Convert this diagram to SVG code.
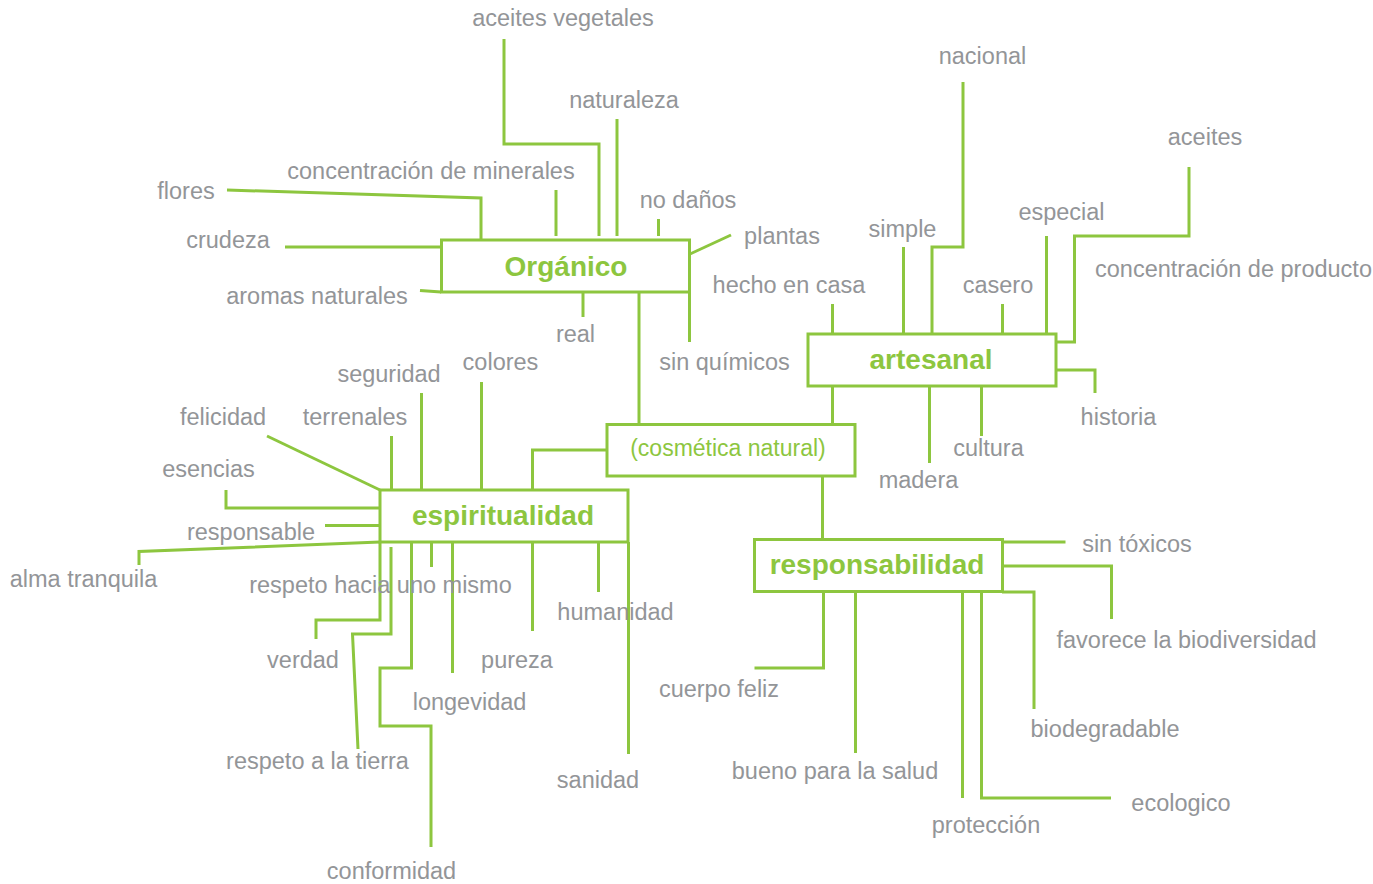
<svg xmlns="http://www.w3.org/2000/svg" width="1373" height="884" viewBox="0 0 1373 884">
<style>
.c{fill:none;stroke:#8dc63f;stroke-width:3}
.b{fill:#fff;stroke:#8dc63f;stroke-width:3}
.t{font-family:"Liberation Sans",Arial,Helvetica,sans-serif;font-size:23.5px;fill:#939598;text-anchor:middle}
.h{font-family:"Liberation Sans",Arial,Helvetica,sans-serif;font-size:28px;font-weight:bold;fill:#8dc63f;text-anchor:middle}
.g{font-family:"Liberation Sans",Arial,Helvetica,sans-serif;font-size:23px;fill:#8dc63f;text-anchor:middle}
</style>
<rect width="1373" height="884" fill="#fff"/>
<g id="connectors">
<polyline class="c" points="504,39 504,144 599,144 599,236"/>
<line class="c" x1="617" y1="119" x2="617" y2="236"/>
<line class="c" x1="556" y1="190" x2="556" y2="236"/>
<line class="c" x1="658.5" y1="219" x2="658.5" y2="236"/>
<polyline class="c" points="227,190 481,198 481,240"/>
<line class="c" x1="285" y1="247" x2="441" y2="247"/>
<line class="c" x1="420" y1="290.5" x2="441" y2="292"/>
<line class="c" x1="690" y1="254" x2="731" y2="235"/>
<line class="c" x1="583" y1="292" x2="583" y2="317"/>
<line class="c" x1="689.5" y1="292" x2="689.5" y2="342"/>
<line class="c" x1="639" y1="292" x2="639" y2="424"/>
<polyline class="c" points="963,82 963,247 932,247 932,334"/>
<line class="c" x1="903.5" y1="247" x2="903.5" y2="334"/>
<line class="c" x1="832.5" y1="304" x2="832.5" y2="334"/>
<line class="c" x1="1002.5" y1="304" x2="1002.5" y2="334"/>
<line class="c" x1="1046.5" y1="236" x2="1046.5" y2="334"/>
<polyline class="c" points="1056,342 1074.5,342 1074.5,236 1189,236 1189,167"/>
<polyline class="c" points="1056,370 1095,370 1095,393"/>
<line class="c" x1="981.5" y1="386" x2="981.5" y2="436"/>
<line class="c" x1="929.5" y1="386" x2="929.5" y2="463"/>
<line class="c" x1="832.5" y1="386" x2="832.5" y2="424"/>
<polyline class="c" points="607,450 532.5,450 532.5,490"/>
<line class="c" x1="822.5" y1="476" x2="822.5" y2="539"/>
<line class="c" x1="267" y1="436" x2="380" y2="490"/>
<line class="c" x1="391.5" y1="436" x2="391.5" y2="490"/>
<line class="c" x1="421.5" y1="393" x2="421.5" y2="490"/>
<line class="c" x1="481.5" y1="382" x2="481.5" y2="490"/>
<polyline class="c" points="226,490 226,508 380,508"/>
<line class="c" x1="325" y1="525.5" x2="380" y2="525.5"/>
<polyline class="c" points="139,565 139,551.5 380,542"/>
<polyline class="c" points="380,542 380,620 316,620 316,639"/>
<polyline class="c" points="391,547 391,634 352.5,634 358,749"/>
<polyline class="c" points="411.5,542 411.5,668 380,668 380,726 431,726 431,847"/>
<line class="c" x1="431.5" y1="542" x2="431.5" y2="567"/>
<line class="c" x1="452.5" y1="542" x2="452.5" y2="673"/>
<line class="c" x1="532.5" y1="542" x2="532.5" y2="631"/>
<line class="c" x1="598.5" y1="542" x2="598.5" y2="592"/>
<line class="c" x1="628.5" y1="542" x2="628.5" y2="754"/>
<line class="c" x1="1002" y1="542" x2="1065.5" y2="542"/>
<polyline class="c" points="1002,566 1111.5,566 1111.5,619"/>
<polyline class="c" points="1002,592 1034,592 1034,709"/>
<polyline class="c" points="823.5,592 823.5,668 754.5,668"/>
<line class="c" x1="855.5" y1="592" x2="855.5" y2="753"/>
<line class="c" x1="962.5" y1="592" x2="962.5" y2="798"/>
<polyline class="c" points="981.5,592 981.5,798 1111,798"/>
</g>
<g id="organico">
<rect class="b" x="441.5" y="240" width="248" height="52"/>
<text class="h" x="566" y="276">Orgánico</text>
</g>
<g id="artesanal">
<rect class="b" x="808" y="334" width="248" height="52"/>
<text class="h" x="931" y="369">artesanal</text>
</g>
<g id="cosmetica">
<rect class="b" x="607" y="424.5" width="248" height="51.5"/>
<text class="g" x="728" y="455.5">(cosmética natural)</text>
</g>
<g id="espiritualidad">
<rect class="b" x="380" y="490" width="248" height="52"/>
<text class="h" x="503" y="525">espiritualidad</text>
</g>
<g id="responsabilidad">
<rect class="b" x="754.5" y="539.5" width="248" height="52"/>
<text class="h" x="877" y="574">responsabilidad</text>
</g>
<g id="labels">
<text class="t" x="563" y="26">aceites vegetales</text>
<text class="t" x="624" y="108">naturaleza</text>
<text class="t" x="431" y="179">concentración de minerales</text>
<text class="t" x="688" y="208">no daños</text>
<text class="t" x="186" y="199">flores</text>
<text class="t" x="228" y="248">crudeza</text>
<text class="t" x="317" y="304">aromas naturales</text>
<text class="t" x="782" y="244">plantas</text>
<text class="t" x="575.5" y="342">real</text>
<text class="t" x="724.5" y="370">sin químicos</text>
<text class="t" x="500.5" y="370">colores</text>
<text class="t" x="789" y="293">hecho en casa</text>
<text class="t" x="902.5" y="237">simple</text>
<text class="t" x="982.5" y="64">nacional</text>
<text class="t" x="1205" y="145">aceites</text>
<text class="t" x="1061.5" y="220">especial</text>
<text class="t" x="998" y="293">casero</text>
<text class="t" x="1095" y="277" style="text-anchor:start">concentración de producto</text>
<text class="t" x="1118.5" y="425">historia</text>
<text class="t" x="988.5" y="456">cultura</text>
<text class="t" x="918.5" y="488">madera</text>
<text class="t" x="389" y="382">seguridad</text>
<text class="t" x="223" y="425">felicidad</text>
<text class="t" x="355" y="425">terrenales</text>
<text class="t" x="208.5" y="477">esencias</text>
<text class="t" x="251" y="540">responsable</text>
<text class="t" x="83.5" y="587">alma tranquila</text>
<text class="t" x="380.5" y="593">respeto hacia uno mismo</text>
<text class="t" x="615.5" y="620">humanidad</text>
<text class="t" x="303" y="668">verdad</text>
<text class="t" x="517" y="668">pureza</text>
<text class="t" x="469.5" y="710">longevidad</text>
<text class="t" x="317.5" y="769">respeto a la tierra</text>
<text class="t" x="598" y="788">sanidad</text>
<text class="t" x="391.5" y="879">conformidad</text>
<text class="t" x="1137" y="552">sin tóxicos</text>
<text class="t" x="1186.5" y="648">favorece la biodiversidad</text>
<text class="t" x="719" y="697">cuerpo feliz</text>
<text class="t" x="1105" y="737">biodegradable</text>
<text class="t" x="835" y="779">bueno para la salud</text>
<text class="t" x="1181" y="811">ecologico</text>
<text class="t" x="986" y="833">protección</text>
</g>
</svg>
